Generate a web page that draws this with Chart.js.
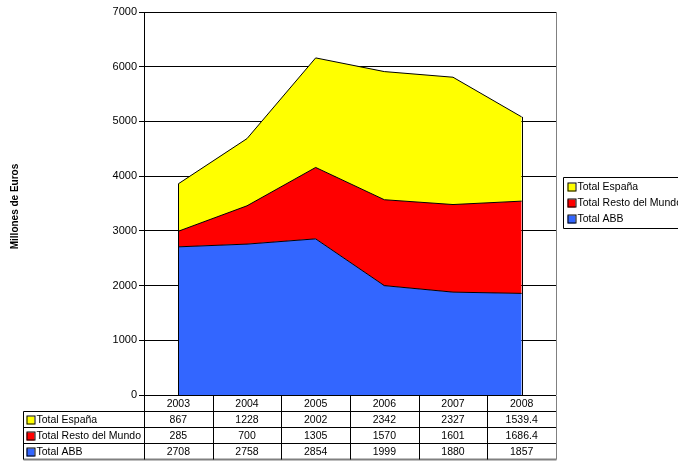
<!DOCTYPE html>
<html>
<head>
<meta charset="utf-8">
<script src="https://cdn.jsdelivr.net/npm/chart.js@4/dist/chart.umd.min.js"></script>
<style>
  html, body { margin: 0; padding: 0; background: #fff; }
  #wrap { width: 678px; height: 463px; }
</style>
</head>
<body>
<div id="wrap"><canvas id="my-chart" width="678" height="463"></canvas></div>
<script>
const years = ['2003', '2004', '2005', '2006', '2007', '2008'];
const totalEspana = [867, 1228, 2002, 2342, 2327, 1539.4];
const totalRestoMundo = [285, 700, 1305, 1570, 1601, 1686.4];
const totalABB = [2708, 2758, 2854, 1999, 1880, 1857];
const yTicks = [0, 1000, 2000, 3000, 4000, 5000, 6000, 7000];

const FONT = '"Liberation Sans", Arial, sans-serif';

// rows of the data table, top to bottom as in the picture
const tableRows = [
  { label: 'Total España', color: '#ffff00', values: totalEspana },
  { label: 'Total Resto del Mundo', color: '#ff0000', values: totalRestoMundo },
  { label: 'Total ABB', color: '#3366ff', values: totalABB }
];

const extras = {
  id: 'extras',
  afterDatasetsDraw(chart) {
    const ctx = chart.ctx;
    const x = chart.scales.x, y = chart.scales.y;
    const a = chart.chartArea;
    ctx.save();
    // vertical edges of the stacked area
    ctx.strokeStyle = '#000';
    ctx.lineWidth = 1;
    [0, years.length - 1].forEach(i => {
      const top = totalABB[i] + totalRestoMundo[i] + totalEspana[i];
      const px = Math.round(x.getPixelForValue(i)) + 0.5;
      ctx.beginPath();
      ctx.moveTo(px, y.getPixelForValue(0));
      ctx.lineTo(px, y.getPixelForValue(top));
      ctx.stroke();
    });
    // right border of plot area
    ctx.strokeStyle = '#808080';
    ctx.beginPath();
    ctx.moveTo(Math.round(a.right) + 0.5, a.top);
    ctx.lineTo(Math.round(a.right) + 0.5, a.bottom);
    ctx.stroke();
    ctx.restore();
  },
  afterDraw(chart) {
    const ctx = chart.ctx;
    const x = chart.scales.x;
    const a = chart.chartArea;
    const colW = (a.right - a.left) / years.length;
    const rowH = 16;
    const top = Math.round(a.bottom) + 0.5;
    const labelLeft = 23.5;
    ctx.save();
    ctx.font = '10.5px ' + FONT;
    ctx.fillStyle = '#000';
    ctx.textBaseline = 'middle';
    ctx.strokeStyle = '#000';
    ctx.lineWidth = 1;

    // header row (years)
    ctx.textAlign = 'center';
    years.forEach((yr, i) => ctx.fillText(yr, x.getPixelForValue(i), top + rowH / 2 + 1));

    // horizontal lines
    for (let r = 1; r <= tableRows.length + 1; r++) {
      const yy = top + r * rowH;
      ctx.strokeStyle = r === tableRows.length + 1 ? '#808080' : '#000';
      ctx.lineWidth = r === tableRows.length + 1 ? 2 : 1;
      ctx.beginPath();
      ctx.moveTo(labelLeft, yy);
      ctx.lineTo(Math.round(a.right) + 0.5, yy);
      ctx.stroke();
    }
    ctx.lineWidth = 1;
    ctx.strokeStyle = '#000';
    // vertical lines
    for (let c = 1; c < years.length; c++) {
      const xx = Math.round(a.left + c * colW) + 0.5;
      ctx.beginPath();
      ctx.moveTo(xx, top);
      ctx.lineTo(xx, top + (tableRows.length + 1) * rowH);
      ctx.stroke();
    }
    ctx.strokeStyle = '#808080';
    ctx.beginPath();
    ctx.moveTo(Math.round(a.right) + 0.5, top);
    ctx.lineTo(Math.round(a.right) + 0.5, top + (tableRows.length + 1) * rowH);
    ctx.stroke();
    ctx.strokeStyle = '#000';
    ctx.beginPath();
    ctx.moveTo(Math.round(a.left) + 0.5, top);
    ctx.lineTo(Math.round(a.left) + 0.5, top + (tableRows.length + 1) * rowH);
    ctx.moveTo(labelLeft, top + rowH);
    ctx.lineTo(labelLeft, top + (tableRows.length + 1) * rowH);
    ctx.stroke();

    // data rows
    tableRows.forEach((row, r) => {
      const cy = top + (r + 1) * rowH + rowH / 2 + 1;
      ctx.fillStyle = row.color;
      ctx.fillRect(labelLeft + 3, cy - 4, 8, 8);
      ctx.strokeRect(labelLeft + 3.5, cy - 4.5, 8, 8);
      ctx.fillStyle = '#000';
      ctx.textAlign = 'left';
      ctx.fillText(row.label, labelLeft + 13, cy);
      ctx.textAlign = 'center';
      row.values.forEach((v, i) => ctx.fillText(String(v), x.getPixelForValue(i), cy));
    });

    // legend box
    const lx = 563.5, ly = 177.5, lh = 51;
    ctx.strokeStyle = '#000';
    ctx.beginPath();
    ctx.moveTo(680, ly);
    ctx.lineTo(lx, ly);
    ctx.lineTo(lx, ly + lh);
    ctx.lineTo(680, ly + lh);
    ctx.stroke();
    tableRows.forEach((row, r) => {
      const cy = ly + 10 + r * 16;
      ctx.fillStyle = row.color;
      ctx.fillRect(lx + 4, cy - 4, 8, 8);
      ctx.strokeRect(lx + 4.5, cy - 4.5, 8, 8);
      ctx.fillStyle = '#000';
      ctx.textAlign = 'left';
      ctx.fillText(row.label, lx + 14, cy);
    });

    // y axis title
    ctx.font = 'bold 10px ' + FONT;
    ctx.textAlign = 'center';
    ctx.translate(15, (a.top + a.bottom) / 2 + 3);
    ctx.rotate(-Math.PI / 2);
    ctx.fillText('Millones de Euros', 0, 0);
    ctx.restore();
  }
};

const ctx = document.getElementById('my-chart').getContext('2d');
const chart = new Chart(ctx, {
  type: 'line',
  data: {
    labels: years,
    datasets: [
      {
        label: 'Total ABB',
        data: totalABB,
        backgroundColor: '#3366ff',
        borderColor: '#000',
        borderWidth: 1,
        fill: 'origin'
      },
      {
        label: 'Total Resto del Mundo',
        data: totalRestoMundo,
        backgroundColor: '#ff0000',
        borderColor: '#000',
        borderWidth: 1,
        fill: '-1'
      },
      {
        label: 'Total España',
        data: totalEspana,
        backgroundColor: '#ffff00',
        borderColor: '#000',
        borderWidth: 1,
        fill: '-1'
      }
    ]
  },
  options: {
    responsive: false,
    animation: false,
    layout: { padding: { top: 12, right: 122, bottom: 68, left: 0 } },
    elements: { point: { radius: 0, hoverRadius: 0 }, line: { tension: 0 } },
    plugins: { legend: { display: false }, tooltip: { enabled: false } },
    scales: {
      x: {
        display: false,
        offset: true,
        afterFit: s => { s.height = 0; }
      },
      y: {
        stacked: true,
        min: 0,
        max: 7000,
        afterBuildTicks: s => { s.ticks = yTicks.map(v => ({ value: v })); },
        afterFit: s => { s.width = 144; },
        ticks: {
          color: '#000',
          padding: 2,
          font: { family: FONT, size: 11 },
          callback: v => String(v)
        },
        grid: {
          color: '#000',
          tickColor: '#000',
          tickLength: 5,
          drawOnChartArea: true
        },
        border: { color: '#000', width: 1 }
      }
    }
  },
  plugins: [extras]
});
</script>
</body>
</html>
